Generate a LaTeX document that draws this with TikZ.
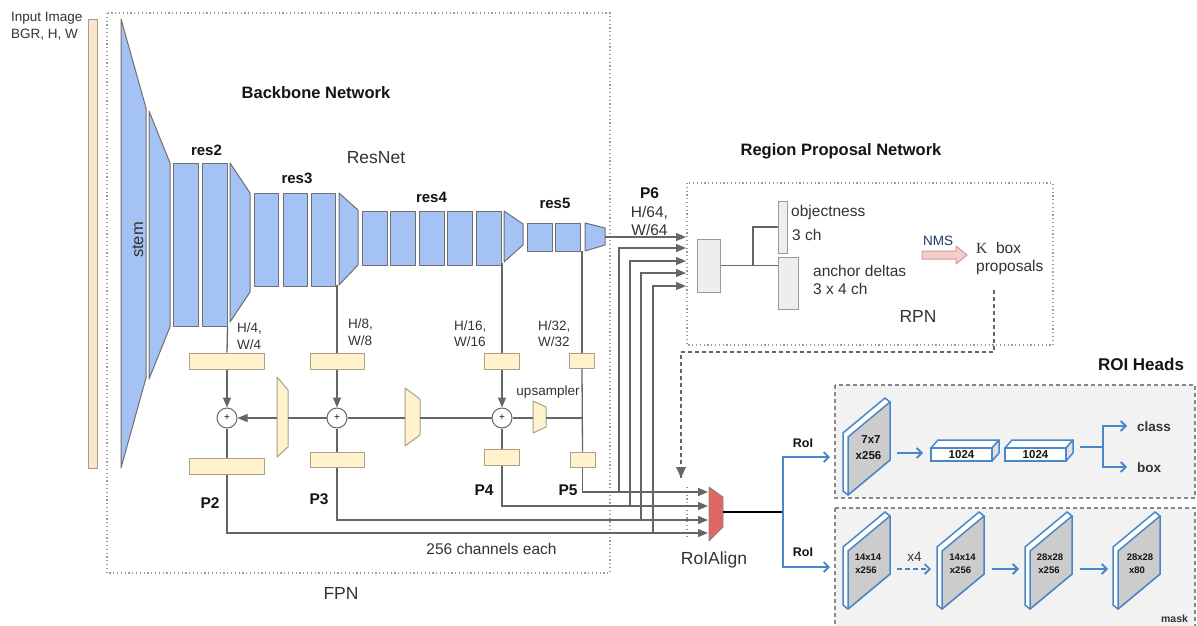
\documentclass[tikz,border=0pt]{standalone}
\usepackage{fontspec}
\setmainfont{Liberation Sans}
\newfontfamily\kserif{Liberation Serif}
\usetikzlibrary{arrows.meta}
\definecolor{bbblue}{HTML}{A4C2F4}
\definecolor{bbedge}{HTML}{6F6F6F}
\definecolor{fpny}{HTML}{FFF2CC}
\definecolor{ybedge}{HTML}{A8A08A}
\definecolor{inpeach}{HTML}{FCE5CD}
\definecolor{inedge}{HTML}{A89A88}
\definecolor{lgray}{HTML}{666666}
\definecolor{dotgray}{HTML}{9A9A9A}
\definecolor{rpngray}{HTML}{EEEEEE}
\definecolor{rpnedge}{HTML}{9A9A9A}
\definecolor{roired}{HTML}{E06666}
\definecolor{nmspink}{HTML}{F4CCCC}
\definecolor{nmsedge}{HTML}{D09A9A}
\definecolor{hblue}{HTML}{4A86C8}
\definecolor{slabgray}{HTML}{CCCCCC}
\definecolor{panel}{HTML}{F2F2F2}
\definecolor{paneledge}{HTML}{888888}
\definecolor{txt}{HTML}{141414}
\definecolor{sub}{HTML}{333333}
\definecolor{nmsblue}{HTML}{1F3766}
\newcommand{\fsz}[1]{\fontsize{#1}{#1}\selectfont}
% 3D plate: x, y (top-left of grey face), name of its centre
\newcommand{\roislab}[3]{%
  \draw[hblue, line width=1.5pt, fill=white, line join=round]
    ({#1-5},{#2-4}) -- ({#1+37},{#2-39}) -- ({#1+42},{#2-35}) -- ({#1+42},{#2+23})
    -- (#1,{#2+58}) -- ({#1-5},{#2+54}) -- cycle;
  \draw[hblue, line width=1.5pt, fill=slabgray, line join=round]
    (#1,#2) -- ({#1+42},{#2-35}) -- ({#1+42},{#2+23}) -- (#1,{#2+58}) -- cycle;
  \coordinate (#3) at ({#1+21},{#2+11.5});
}
% 3D fc layer: x, y (top-left of front face), node name
\newcommand{\fclayer}[3]{%
  \draw[hblue, line width=1.5pt, fill=white, line join=round]
    (#1,#2) -- ({#1+7},{#2-8}) -- ({#1+68},{#2-8}) -- ({#1+61},#2) -- cycle;
  \draw[hblue, line width=1.5pt, fill=black!12, line join=round]
    ({#1+61},#2) -- ({#1+68},{#2-8}) -- ({#1+68},{#2+5}) -- ({#1+61},{#2+13}) -- cycle;
  \node[draw=hblue, line width=1.5pt, fill=white, inner sep=0pt, minimum width=61pt,
    minimum height=13pt] (#3) at ({#1+30.5},{#2+6.5}) {};
}
\begin{document}
\begin{tikzpicture}[x=1pt,y=-1pt,
  every node/.style={text=txt},
  bb/.style={draw=bbedge, fill=bbblue, line width=1pt, line join=round, inner sep=0pt},
  yb/.style={draw=ybedge, fill=fpny, line width=1pt, inner sep=0pt, line join=round},
  ln/.style={draw=lgray, line width=1.3pt},
  arr/.style={ln, -{Triangle[length=10pt,width=8pt]}},
  dotbox/.style={draw=dotgray, line width=1.2pt, dash pattern=on 1.2pt off 2.6pt},
  plus/.style={circle, draw=lgray, fill=white, line width=1pt, minimum size=20pt, inner sep=0pt, font=\fsz{10}},
  rbox/.style={draw=rpnedge, fill=rpngray, line width=1pt, inner sep=0pt},
  hl/.style={draw=hblue, line width=1.8pt},
  harr/.style={hl, -{Straight Barb[length=5pt,width=10pt]}},
  panelbox/.style={draw=paneledge, fill=panel, line width=1.5pt, dash pattern=on 4pt off 3pt},
  lbl/.style={inner sep=0pt, anchor=base},
  lbw/.style={inner sep=0pt, anchor=base west},
  ttl/.style={font=\fsz{16.5}\bfseries},
  big/.style={font=\fsz{17.5}, text=sub},
  reslbl/.style={font=\fsz{15}\bfseries},
  dim/.style={font=\fsz{13.5}, text=sub},
  plbl/.style={font=\fsz{15.5}\bfseries},
  mid/.style={font=\fsz{15.5}, text=sub},
  slbl/.style={font=\fsz{11.5}\bfseries},
  mlbl/.style={font=\fsz{9.5}\bfseries}
]
\useasboundingbox (0,0) rectangle (1197,625);
\fill[white] (0,0) rectangle (1197,625);

% ---------------- frames ----------------
\draw[dotbox] (107,13) rectangle (610,573);
\draw[dotbox] (687,183) rectangle (1053,345);
\draw[dotbox] (687,487) -- (687,537);
\draw[panelbox] (835,385) rectangle (1195,498);
\draw[panelbox] (835,508) rectangle (1195,640);

% ---------------- input ----------------
\node[draw=inedge, fill=inpeach, line width=1pt, inner sep=0pt, minimum width=9pt, minimum height=449pt] (inbar) at (92.5,243.5) {};
\node[lbw, dim] (in1) at (11,21.5) {Input Image};
\node[lbw, dim] (in2) at (11,38.5) {BGR, H, W};

% ---------------- backbone ----------------
\draw[bb] (121,19) -- (146,108) -- (146,378) -- (121,468) -- cycle;
\node[lbl, rotate=90, font=\fsz{16.5}, text=sub] (stemlbl) at (143,240) {stem};
\draw[bb] (149,111) -- (170,163) -- (170,327) -- (149,379) -- cycle;
\node[bb, minimum width=25pt, minimum height=163pt] (r2a) at (185.5,244.5) {};
\node[bb, minimum width=25pt, minimum height=163pt] (r2b) at (214.5,244.5) {};
\draw[bb] (230,163) -- (250,193) -- (250,292) -- (230,322) -- cycle;
\node[bb, minimum width=24pt, minimum height=93pt] (r3a) at (266,239.5) {};
\node[bb, minimum width=24pt, minimum height=93pt] (r3b) at (295,239.5) {};
\node[bb, minimum width=24pt, minimum height=93pt] (r3c) at (323,239.5) {};
\draw[bb] (339,193) -- (358,210) -- (358,265) -- (339,285) -- cycle;
\node[bb, minimum width=25pt, minimum height=54pt] (r4a) at (374.5,238) {};
\node[bb, minimum width=25pt, minimum height=54pt] (r4b) at (403,238) {};
\node[bb, minimum width=25pt, minimum height=54pt] (r4c) at (431.5,238) {};
\node[bb, minimum width=25pt, minimum height=54pt] (r4d) at (460,238) {};
\node[bb, minimum width=25pt, minimum height=54pt] (r4e) at (488.5,238) {};
\draw[bb] (504,211) -- (523,224) -- (523,245) -- (504,262) -- cycle;
\node[bb, minimum width=25pt, minimum height=28pt] (r5a) at (539.5,237) {};
\node[bb, minimum width=25pt, minimum height=28pt] (r5b) at (567.5,237) {};
\draw[bb] (585,223) -- (605,228) -- (605,245) -- (585,251) -- cycle;

\node[lbl, ttl] (bbt) at (316,98) {Backbone Network};
\node[lbl, big] (resnet) at (376,163) {ResNet};
\node[lbl, reslbl] (res2) at (206.5,155.5) {res2};
\node[lbl, reslbl] (res3) at (297,183) {res3};
\node[lbl, reslbl] (res4) at (431.5,202.5) {res4};
\node[lbl, reslbl] (res5) at (555,208) {res5};

% ---------------- FPN ----------------
\coordinate (o3) at (337,285);
\coordinate (o4) at (502,263);
\coordinate (o5) at (582,251);
\coordinate (t5r) at (605,237);

\node[yb, minimum width=75pt, minimum height=16pt] (l2t) at (227,361) {};
\node[plus] (c2) at (227,418) {+};
\node[yb, minimum width=75pt, minimum height=16pt] (l2b) at (227,466) {};
\node[yb, minimum width=54pt, minimum height=16pt] (l3t) at (337,361) {};
\node[plus] (c3) at (337,418) {+};
\node[yb, minimum width=54pt, minimum height=15pt] (l3b) at (337,459.5) {};
\node[yb, minimum width=35pt, minimum height=16pt] (l4t) at (502,361) {};
\node[plus] (c4) at (502,418) {+};
\node[yb, minimum width=35pt, minimum height=16pt] (l4b) at (502,457) {};
\node[yb, minimum width=25pt, minimum height=15pt] (l5t) at (582,360.5) {};
\coordinate (j5) at (582,418);
\node[yb, minimum width=25pt, minimum height=15pt] (l5b) at (582.5,459.5) {};

\draw[yb] (533,401) -- (546,407) -- (546,427) -- (533,433) -- cycle;
\draw[yb] (405,388) -- (420,399) -- (420,435) -- (405,446) -- cycle;
\draw[yb] (277,377) -- (288,390) -- (288,447) -- (277,457) -- cycle;
\coordinate (u54r) at (546,418); \coordinate (u54l) at (533,418);
\coordinate (u43r) at (420,418); \coordinate (u43l) at (405,418);
\coordinate (u32r) at (288,418); \coordinate (u32l) at (277,418);

\draw[ln] (r2b.south east) -- (l2t.north);
\draw[arr] (l2t.south) -- (c2);
\draw[ln] (c2) -- (l2b.north);
\draw[ln] (o3) -- (l3t.north);
\draw[arr] (l3t.south) -- (c3);
\draw[ln] (c3) -- (l3b.north);
\draw[ln] (o4) -- (l4t.north);
\draw[arr] (l4t.south) -- (c4);
\draw[ln] (c4) -- (l4b.north);
\draw[ln] (o5) -- (l5t.north);
\draw[ln] (l5t.south) -- (l5b.north);
\draw[ln] (j5) -- (u54r);
\draw[ln] (u54l) -- (c4);
\draw[ln] (c4) -- (u43r);
\draw[ln] (u43l) -- (c3);
\draw[ln] (c3) -- (u32r);
\draw[arr] (u32l) -- (c2);

\node[lbw, dim] (d2a) at (237,332.5) {H/4,};
\node[lbw, dim] (d2b) at (237,349) {W/4};
\node[lbw, dim] (d3a) at (348,328.5) {H/8,};
\node[lbw, dim] (d3b) at (348,345) {W/8};
\node[lbw, dim] (d4a) at (454,330) {H/16,};
\node[lbw, dim] (d4b) at (454,346.5) {W/16};
\node[lbw, dim] (d5a) at (538,330) {H/32,};
\node[lbw, dim] (d5b) at (538,346.5) {W/32};
\node[lbl, dim] (ups) at (548,395.5) {upsampler};

\node[lbl, plbl] (p2) at (210,508) {P2};
\node[lbl, plbl] (p3) at (319,504) {P3};
\node[lbl, plbl] (p4) at (484,495) {P4};
\node[lbl, plbl] (p5) at (568,495) {P5};
\node[lbl, mid] (chan) at (491.5,554) {256 channels each};
\node[lbl, big] (fpn) at (341,599) {FPN};

% ---------------- feature routing ----------------
\coordinate (rp1) at (686,237);
\coordinate (rp2) at (686,248);
\coordinate (rp3) at (686,261);
\coordinate (rp4) at (686,273);
\coordinate (rp5) at (686,286);
\coordinate (ra1) at (708,492);
\coordinate (ra2) at (708,506);
\coordinate (ra3) at (708,520);
\coordinate (ra4) at (708,533);
\coordinate (v5) at (619,492);
\coordinate (v4) at (630,506);
\coordinate (v3) at (641,520);
\coordinate (v2) at (653,533);

\draw[arr] (t5r) -- (rp1);
\draw[arr] (l5b.south) |- (ra1);
\draw[arr] (l4b.south) |- (ra2);
\draw[arr] (l3b.south) |- (ra3);
\draw[arr] (l2b.south) |- (ra4);
\draw[arr] (v5) |- (rp2);
\draw[arr] (v4) |- (rp3);
\draw[arr] (v3) |- (rp4);
\draw[arr] (v2) |- (rp5);

\node[lbl, plbl] (p6) at (649.5,198) {P6};
\node[lbl, mid] (d6a) at (649.5,217.5) {H/64,};
\node[lbl, mid] (d6b) at (649.5,235) {W/64};

% ---------------- RPN ----------------
\node[lbl, ttl] (rpnt) at (841,155) {Region Proposal Network};
\node[rbox, minimum width=23pt, minimum height=53pt] (conv) at (708.5,265.5) {};
\node[rbox, minimum width=9pt, minimum height=52pt] (obj) at (782.5,227) {};
\node[rbox, minimum width=20pt, minimum height=52pt] (anc) at (788,283) {};
\coordinate (jr) at (753,266);
\draw[ln, line width=1.1pt] (conv.east) -- (conv.east -| anc.west);
\draw[ln, line width=1.1pt] (jr) |- (obj.west);
\node[lbw, mid] (objt) at (791,216.5) {objectness};
\node[lbw, mid] (objc) at (792,240) {3 ch};
\node[lbw, mid] (anct) at (813,276) {anchor deltas};
\node[lbw, mid] (ancc) at (813,294) {3 x 4 ch};
\draw[draw=nmsedge, fill=nmspink, line width=1pt, line join=round]
  (922,251) -- (956,251) -- (956,246) -- (967,255) -- (956,264) -- (956,259) -- (922,259) -- cycle;
\node[lbl, font=\fsz{13.5}, text=nmsblue] (nms) at (938,245) {NMS};
\node[lbw, mid] (kbox) at (976,253) {{\kserif K}\ \ box};
\node[lbw, mid] (kprop) at (976,271.5) {proposals};
\node[lbl, big] (rpnl) at (918,322.5) {RPN};

\coordinate (d1) at (994,290);
\coordinate (d2) at (681,352);
\coordinate (d3) at (681,478);
\draw[ln, line width=1.2pt, dash pattern=on 4pt off 3pt] (d1) |- (d2) -- (d3);
\draw[draw=none, fill=lgray] (676,467) -- (686,467) -- (681,478) -- cycle;

% ---------------- RoIAlign ----------------
\draw[draw=lgray!80, fill=roired, line width=0.8pt, line join=round]
  (709,487) -- (723,497) -- (723,527) -- (709,541) -- cycle;
\coordinate (roiout) at (723,512);
\node[lbl, big] (roial) at (714,564) {RoIAlign};
\coordinate (bj) at (783,512);
\coordinate (h1in) at (830,457);
\coordinate (h2in) at (830,567);
\draw[draw=black, line width=1.6pt] (roiout) -- (bj);
\draw[harr] (bj) |- (h1in);
\draw[harr] (bj) |- (h2in);
\node[lbl, font=\fsz{12.5}\bfseries] (roi1) at (803,447) {RoI};
\node[lbl, font=\fsz{12.5}\bfseries] (roi2) at (803,556.5) {RoI};

% ---------------- ROI heads ----------------
\node[lbl, font=\fsz{17}\bfseries] (rh) at (1141,370.5) {ROI Heads};

% box head
\roislab{848}{437}{bs}
\node[lbl, slbl] (bs1) at (871,443.5) {7x7};
\node[lbl, slbl] (bs2) at (868.5,459.5) {x256};
\coordinate (a1s) at (897,453);
\coordinate (a1e) at (923,453);
\draw[harr] (a1s) -- (a1e);
\fclayer{931}{448}{fc1}
\fclayer{1005}{448}{fc2}
\node[lbl, slbl] (fc1t) at (961.5,458.5) {1024};
\node[lbl, slbl] (fc2t) at (1035.5,458.5) {1024};
\coordinate (hj0) at (1080,447);
\coordinate (hj) at (1103,447);
\coordinate (hc) at (1127,426);
\coordinate (hb) at (1127,467);
\draw[hl] (hj0) -- (hj);
\draw[harr] (hj) |- (hc);
\draw[harr] (hj) |- (hb);
\node[lbw, font=\fsz{13.5}\bfseries, text=sub] (cls) at (1137,431) {class};
\node[lbw, font=\fsz{13.5}\bfseries, text=sub] (bx) at (1137,472) {box};

% mask head
\roislab{848}{551}{m1}
\roislab{942}{551}{m2}
\roislab{1030}{551}{m3}
\roislab{1118}{551}{m4}
\node[lbl, mlbl] (m1a) at (868,560.5) {14x14};
\node[lbl, mlbl] (m1b) at (866,573.5) {x256};
\node[lbl, mlbl] (m2a) at (962.5,560.5) {14x14};
\node[lbl, mlbl] (m2b) at (960.5,573.5) {x256};
\node[lbl, mlbl] (m3a) at (1050,560.5) {28x28};
\node[lbl, mlbl] (m3b) at (1049,573.5) {x256};
\node[lbl, mlbl] (m4a) at (1140,560.5) {28x28};
\node[lbl, mlbl] (m4b) at (1137,573.5) {x80};
\coordinate (m1s) at (897,569); \coordinate (m1e) at (931,569);
\coordinate (m2s) at (992,569); \coordinate (m2e) at (1019,569);
\coordinate (m3s) at (1080,569); \coordinate (m3e) at (1108,569);
\draw[harr, dash pattern=on 5pt off 3pt] (m1s) -- (m1e);
\draw[harr] (m2s) -- (m2e);
\draw[harr] (m3s) -- (m3e);
\node[lbl, font=\fsz{13.5}, text=sub] (x4) at (914.5,561) {x4};
\node[lbl, font=\fsz{10.5}\bfseries, text=sub] (mask) at (1174.5,622.5) {mask};
\end{tikzpicture}
\end{document}
